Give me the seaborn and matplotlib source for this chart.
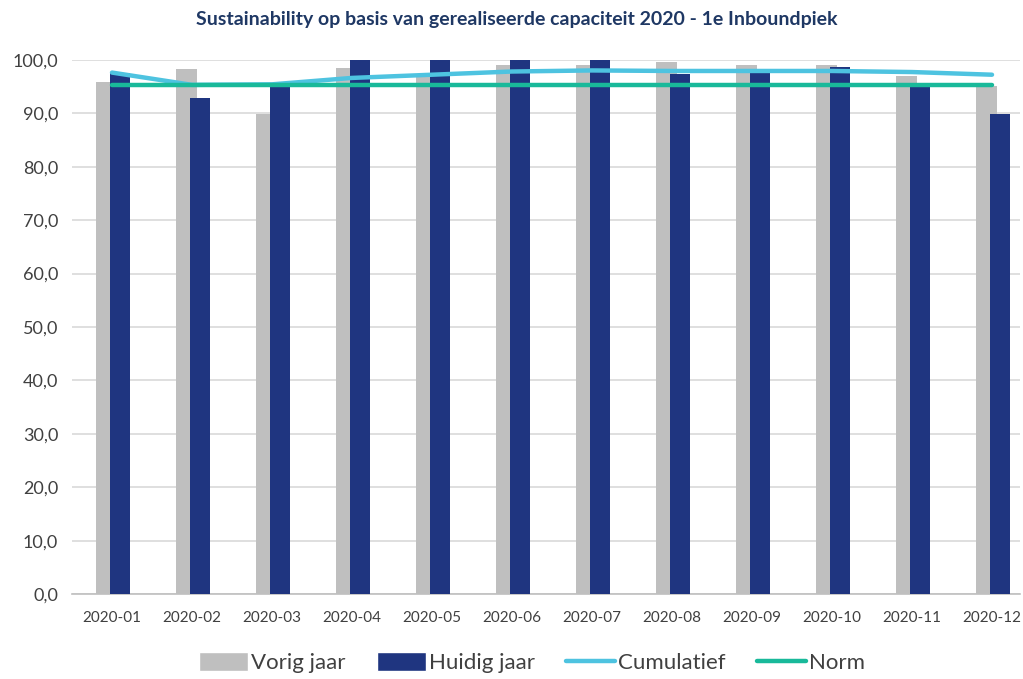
import matplotlib
matplotlib.use("Agg")
import matplotlib.pyplot as plt
import seaborn as sns
import pandas as pd
from matplotlib.patches import Patch
from matplotlib.lines import Line2D
from matplotlib.ticker import FuncFormatter

maanden = ["2020-01", "2020-02", "2020-03", "2020-04", "2020-05", "2020-06",
           "2020-07", "2020-08", "2020-09", "2020-10", "2020-11", "2020-12"]
vorig_jaar = [95.9, 98.2, 89.9, 98.4, 97.4, 99.0, 99.0, 99.5, 99.0, 99.0, 97.0, 95.0]
huidig_jaar = [97.6, 92.9, 95.3, 100.0, 100.0, 100.0, 100.0, 97.4, 97.7, 98.6, 95.0, 89.8]
cumulatief = [97.6, 95.3, 95.4, 96.6, 97.2, 97.8, 98.0, 97.9, 97.9, 97.9, 97.7, 97.2]
norm = [95.3] * 12

kleuren = {"Vorig jaar": "#BFBFBF", "Huidig jaar": "#1F3580",
           "Cumulatief": "#4EC3E0", "Norm": "#19B99A"}

sns.set_theme(style="white")
plt.rcParams["font.family"] = ["Lato", "DejaVu Sans"]

df = pd.DataFrame({
    "maand": maanden * 2,
    "waarde": vorig_jaar + huidig_jaar,
    "serie": ["Vorig jaar"] * 12 + ["Huidig jaar"] * 12,
})

fig = plt.figure(figsize=(10.23, 6.79), dpi=100)
ax = fig.add_axes([72 / 1023, 0.125, 948 / 1023, 0.787])

sns.barplot(data=df, x="maand", y="waarde", hue="serie", order=maanden,
            hue_order=["Vorig jaar", "Huidig jaar"],
            palette=[kleuren["Vorig jaar"], kleuren["Huidig jaar"]],
            dodge=True, width=0.42, saturation=1, errorbar=None, legend=False, ax=ax)

# Excel-style overlapping clustered bars
bw = 0.26
shift = {0: -0.07, 1: 0.10}
n = len(maanden)
for i, p in enumerate(ax.patches[:2 * n]):
    grp = i // n
    idx = i % n
    p.set_width(bw)
    p.set_x(idx + shift[grp] - bw / 2)
    p.set_edgecolor("none")
    p.set_zorder(2 + grp)

x_idx = list(range(n))
sns.lineplot(x=x_idx, y=cumulatief, color=kleuren["Cumulatief"], linewidth=3.2, ax=ax,
             zorder=5)
sns.lineplot(x=x_idx, y=norm, color=kleuren["Norm"], linewidth=3.2, ax=ax, zorder=6)

ax.set_ylim(0, 100)
ax.set_xlim(-0.5, 11.35)
ax.set_yticks(range(0, 101, 10))
ax.yaxis.set_major_formatter(FuncFormatter(lambda v, _: f"{v:.1f}".replace(".", ",")))
ax.grid(axis="y", color="#D9D9D9", linewidth=1.2, zorder=0)
ax.set_axisbelow(True)
for s in ["top", "right", "left"]:
    ax.spines[s].set_visible(False)
ax.spines["bottom"].set_color("#BFBFBF")
ax.spines["bottom"].set_linewidth(1.2)
ax.set_xlabel("")
ax.set_ylabel("")
ax.set_xticks(x_idx)
ax.set_xticklabels(maanden)
ax.tick_params(axis="x", labelsize=11, colors="#404040", length=0, pad=12)
ax.tick_params(axis="y", labelsize=13, colors="#404040", length=0, pad=10)

fig.text(0.505, 0.972, "Sustainability op basis van gerealiseerde capaciteit 2020 - 1e Inboundpiek",
         ha="center", va="center", fontsize=14, fontweight="bold", color="#1F3864")

handles = [
    Patch(facecolor=kleuren["Vorig jaar"], label="Vorig jaar"),
    Patch(facecolor=kleuren["Huidig jaar"], label="Huidig jaar"),
    Line2D([], [], color=kleuren["Cumulatief"], linewidth=3.2, label="Cumulatief"),
    Line2D([], [], color=kleuren["Norm"], linewidth=3.2, label="Norm"),
]
leg = fig.legend(handles=handles, loc="center", bbox_to_anchor=(0.52, 0.024), ncol=4,
                 frameon=False, fontsize=16, handlelength=2.2, handleheight=0.9,
                 handletextpad=0.15, columnspacing=1.4)
for t in leg.get_texts():
    t.set_color("#404040")

fig.savefig("out.png", dpi=100)
